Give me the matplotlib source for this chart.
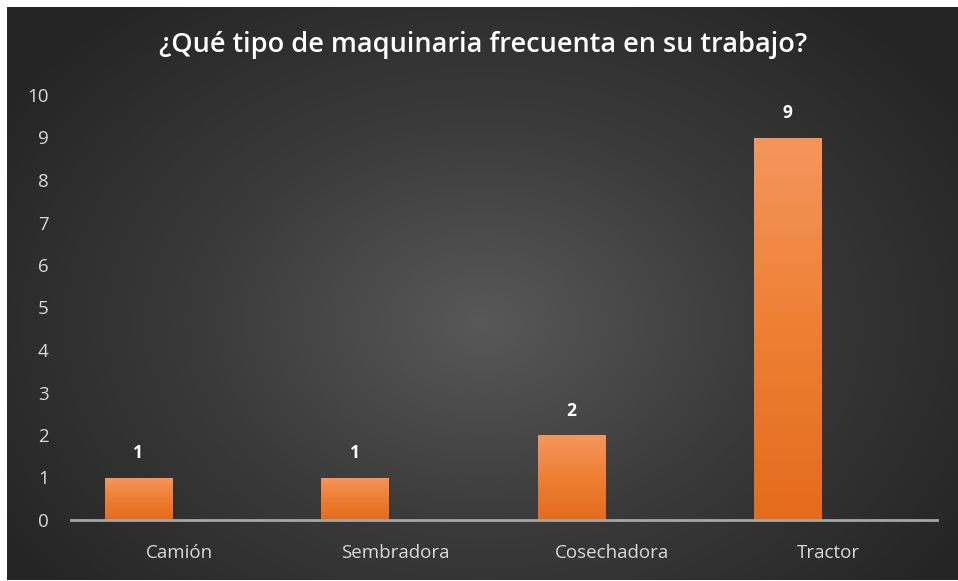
import numpy as np
import matplotlib
matplotlib.use("Agg")
import matplotlib.pyplot as plt
from matplotlib.colors import LinearSegmentedColormap

categories = ["Camión", "Sembradora", "Cosechadora", "Tractor"]
values = [1, 1, 2, 9]
yticks = list(range(0, 11))
title = "¿Qué tipo de maquinaria frecuenta en su trabajo?"

W, H = 958, 581
fig = plt.figure(figsize=(W / 100, H / 100), dpi=100)
fig.patch.set_facecolor("white")

# background panel with radial gradient
bg = fig.add_axes([7 / W, 1 / H, (W - 7) / W, (H - 8) / H])
bg.set_axis_off()
ny, nx = 300, 500
yy, xx = np.mgrid[0:ny, 0:nx]
cx, cy = nx * 0.5, ny * 0.55
r = np.sqrt(((xx - cx) / (nx * 0.6)) ** 2 + ((yy - cy) / (ny * 0.72)) ** 2)
r = np.clip(r, 0, 1)
cmap_bg = LinearSegmentedColormap.from_list("bg", ["#585858", "#3a3a3a", "#252525"])
bg.imshow(r, cmap=cmap_bg, aspect="auto", extent=[0, 1, 0, 1], vmin=0, vmax=1)
bg.set_xlim(0, 1)
bg.set_ylim(0, 1)

ax = fig.add_axes([71 / W, 61 / H, (937 - 71) / W, (520 - 95) / H])
ax.patch.set_alpha(0)
x = np.arange(len(categories))
offset = -0.19
bars = ax.bar(x + offset, values, width=0.31, color="#ed7d31", zorder=3)

cmap_bar = LinearSegmentedColormap.from_list("bar", ["#e46c1c", "#ee7f33", "#f4965c"])
grad = np.linspace(0, 1, 256).reshape(-1, 1)
for b in bars:
    bx, by = b.get_x(), b.get_y()
    bw, bh = b.get_width(), b.get_height()
    im = ax.imshow(grad, cmap=cmap_bar, aspect="auto", origin="lower",
                   extent=[bx, bx + bw, by, by + bh], zorder=4)
    im.set_clip_path(b)
    ax.text(bx + bw / 2, bh + 0.36, str(int(bh)), ha="center", va="bottom",
            color="white", fontsize=12.5, fontweight="bold", family="Open Sans", zorder=5)

ax.set_xlim(-0.5, len(categories) - 0.5)
ax.set_ylim(0, 10)
ax.set_yticks(yticks)
ax.set_yticklabels([str(t) for t in yticks], color="#d9d9d9", fontsize=13.5, family="Open Sans")
ax.set_xticks(x)
ax.set_xticklabels(categories, color="#d9d9d9", fontsize=13.5, family="Open Sans")
ax.tick_params(axis="y", length=0, pad=16)
ax.tick_params(axis="x", length=0, pad=17)
for s in ["top", "right", "left"]:
    ax.spines[s].set_visible(False)
ax.spines["bottom"].set_color("#a6a6a6")
ax.spines["bottom"].set_linewidth(2)
ax.spines["bottom"].set_zorder(6)

fig.text(483 / W, 1 - 45 / H, title, ha="center", va="center", color="white",
         fontsize=19.5, fontweight="semibold", family="Open Sans")

fig.savefig("out.png", dpi=100, facecolor=fig.get_facecolor())
